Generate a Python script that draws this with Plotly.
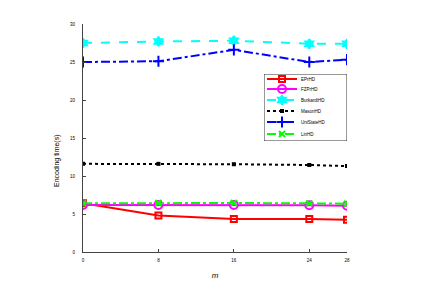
import plotly.graph_objects as go

m_values = [0, 8, 16, 24, 28]
ephd = [6.4, 4.8, 4.35, 4.35, 4.25]
fzphd = [6.2, 6.2, 6.2, 6.15, 6.1]
burkardthd = [27.5, 27.7, 27.8, 27.4, 27.4]
masonhd = [11.6, 11.6, 11.55, 11.45, 11.3]
unistatehd = [25.0, 25.1, 26.6, 25.0, 25.3]
linhd = [6.4, 6.45, 6.45, 6.4, 6.35]
series_names = ["EPrHD", "FZPrHD", "BurkardtHD", "MasonHD", "UniStateHD", "LinHD"]
y_ticks = [0, 5, 10, 15, 20, 25, 30]
x_ticks = [0, 8, 16, 24, 28]

FONT = "Liberation Sans, Arial, sans-serif"
fig = go.Figure()
specs = [
    ("red", "solid", "square-open", 6),
    ("magenta", "solid", "circle-open", 8),
    ("cyan", "dash", "hexagram", 7),
    ("black", "dot", "square", 2),
    ("blue", "dashdot", "cross-thin-open", 8),
    ("lime", "dashdot", "x-thin-open", 6),
]
series_vals = [ephd, fzphd, burkardthd, masonhd, unistatehd, linhd]
for name, vals, (col, dash, sym, sz) in zip(series_names, series_vals, specs):
    fig.add_trace(go.Scatter(
        x=m_values, y=vals, name=name, mode="lines+markers", showlegend=False,
        line=dict(color=col, width=2, dash=dash),
        marker=dict(symbol=sym, size=sz, color=col, line=dict(color=col, width=2)),
    ))

# compact legend drawn in its own small subplot (pixel units)
leg_rows = [71, 81, 92, 103, 114, 126]
for name, row, (col, dash, sym, sz) in zip(series_names, leg_rows, specs):
    fig.add_trace(go.Scatter(
        x=[259, 289], y=[row, row], mode="lines", showlegend=False, hoverinfo="skip",
        line=dict(color=col, width=2, dash=dash), xaxis="x2", yaxis="y2"))
    fig.add_trace(go.Scatter(
        x=[274], y=[row], mode="markers", showlegend=False, hoverinfo="skip",
        marker=dict(symbol=sym, size=sz, color=col, line=dict(color=col, width=2)),
        xaxis="x2", yaxis="y2"))
    fig.add_annotation(x=291, y=row, xref="x2", yref="y2", text=name, showarrow=False,
                       xanchor="left", yanchor="middle", font=dict(size=4.5, family=FONT))
fig.add_shape(type="rect", xref="x2", yref="y2", x0=256, x1=339, y0=66, y1=133,
              line=dict(color="#333", width=1), fillcolor="rgba(0,0,0,0)")

fig.update_layout(
    width=439, height=295,
    margin=dict(l=75, r=100, t=16, b=51),
    paper_bgcolor="white", plot_bgcolor="rgba(0,0,0,0)",
    font=dict(family=FONT, size=4.5, color="black"),
    showlegend=False,
    xaxis=dict(range=[0, 28], tickvals=x_ticks, showgrid=False, zeroline=False,
               showline=True, linecolor="#444", linewidth=1, automargin=False,
               ticks="inside", ticklen=3, tickcolor="#444", ticklabelstandoff=4,
               title=dict(text="<i>m</i>", font=dict(size=8), standoff=9)),
    yaxis=dict(range=[0, 30], tickvals=y_ticks, showgrid=False, zeroline=False,
               showline=True, linecolor="#444", linewidth=1, automargin=False,
               ticks="inside", ticklen=3, tickcolor="#444", ticklabelstandoff=6),
    xaxis2=dict(domain=[(256 - 75) / 264, 1.0], range=[256, 339], visible=False,
                anchor="y2", fixedrange=True),
    yaxis2=dict(domain=[(244 - 133) / 228, (244 - 66) / 228], range=[133, 66],
                visible=False, anchor="x2", fixedrange=True),
)
fig.add_annotation(xref="paper", yref="paper", x=(43 - 75) / 264, y=(244 - 153) / 228,
                   text="Encoding time(s)", showarrow=False, textangle=-90,
                   font=dict(size=7, family=FONT))

fig.write_html("out.html")
